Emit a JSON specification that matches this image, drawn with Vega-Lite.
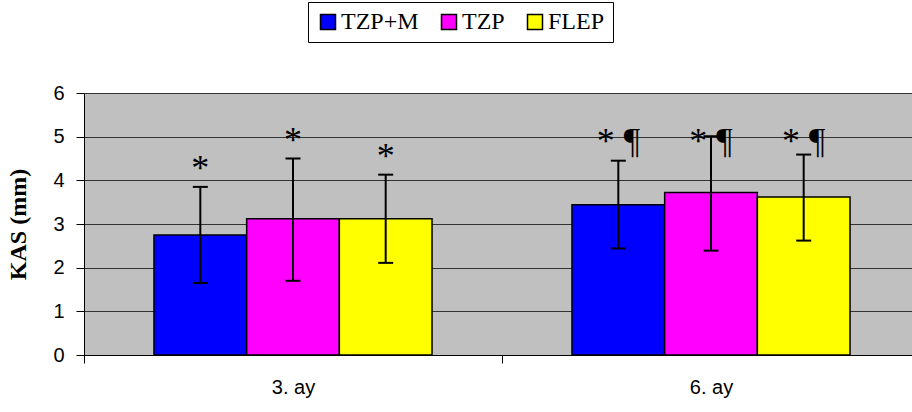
{
  "$schema": "https://vega.github.io/schema/vega-lite/v6.json",
  "autosize": {"type": "none"},
  "padding": {"left": 84, "top": 93, "right": 0, "bottom": 57},
  "width": 836,
  "height": 262,
  "background": "white",
  "config": {"view": {"fill": "#C0C0C0", "stroke": "#808080", "strokeWidth": 1}},
  "data": {"values": [
    {"period": "3. ay", "group": "TZP+M", "mean": 2.75, "lo": 1.65, "hi": 3.85, "sig": "*"},
    {"period": "3. ay", "group": "TZP", "mean": 3.12, "lo": 1.70, "hi": 4.50, "sig": "*"},
    {"period": "3. ay", "group": "FLEP", "mean": 3.12, "lo": 2.11, "hi": 4.13, "sig": "*"},
    {"period": "6. ay", "group": "TZP+M", "mean": 3.44, "lo": 2.44, "hi": 4.45, "sig": "* ¶"},
    {"period": "6. ay", "group": "TZP", "mean": 3.72, "lo": 2.39, "hi": 5.01, "sig": "* ¶"},
    {"period": "6. ay", "group": "FLEP", "mean": 3.62, "lo": 2.62, "hi": 4.59, "sig": "* ¶"}
  ]},
  "encoding": {
    "x": {
      "field": "period", "type": "nominal", "sort": ["3. ay", "6. ay"],
      "scale": {"paddingInner": 0, "paddingOuter": 0},
      "axis": {
        "title": null, "labelAngle": 0, "tickBand": "extent",
        "labelFont": "Liberation Sans", "labelFontSize": 20, "labelColor": "black",
        "labelPadding": 14, "tickSize": 8, "tickColor": "black", "domainColor": "black",
        "grid": false
      }
    },
    "xOffset": {
      "field": "group", "type": "nominal", "sort": ["TZP+M", "TZP", "FLEP"],
      "scale": {"paddingInner": 0, "paddingOuter": 0.755}
    }
  },
  "layer": [
    {
      "mark": {"type": "bar", "stroke": "black", "strokeWidth": 1.5},
      "encoding": {
        "y": {
          "field": "mean", "type": "quantitative",
          "scale": {"domain": [0, 6], "nice": false},
          "axis": {
            "values": [0, 1, 2, 3, 4, 5, 6],
            "title": "KAS (mm)", "titleFont": "Liberation Serif", "titleFontWeight": "bold",
            "titleFontSize": 24, "titleColor": "black", "titlePadding": 22,
            "labelFont": "Liberation Sans", "labelFontSize": 20, "labelColor": "black",
            "labelPadding": 12, "tickSize": 8, "tickColor": "black", "domainColor": "black",
            "grid": true, "gridColor": "#333333", "gridWidth": 1
          }
        },
        "color": {
          "field": "group", "type": "nominal", "sort": ["TZP+M", "TZP", "FLEP"],
          "scale": {"domain": ["TZP+M", "TZP", "FLEP"], "range": ["#0000FF", "#FF00FF", "#FFFF00"]},
          "legend": {
            "orient": "none", "legendX": 224, "legendY": -91, "direction": "horizontal",
            "title": null, "strokeColor": "black", "fillColor": "white", "padding": 8,
            "symbolType": "square", "symbolSize": 225, "symbolStrokeColor": "black",
            "symbolStrokeWidth": 1.5, "symbolOpacity": 1,
            "labelFont": "Liberation Serif", "labelFontSize": 24, "labelColor": "black",
            "labelOffset": 1, "columnPadding": 18
          }
        }
      }
    },
    {
      "mark": {"type": "rule", "color": "black", "strokeWidth": 2},
      "encoding": {
        "y": {"field": "lo", "type": "quantitative"},
        "y2": {"field": "hi"}
      }
    },
    {
      "mark": {"type": "tick", "color": "black", "thickness": 2, "size": 15, "opacity": 1},
      "encoding": {"y": {"field": "lo", "type": "quantitative"}}
    },
    {
      "mark": {"type": "tick", "color": "black", "thickness": 2, "size": 15, "opacity": 1},
      "encoding": {"y": {"field": "hi", "type": "quantitative"}}
    },
    {
      "transform": [{"filter": "datum.period == '3. ay'"}],
      "mark": {"type": "text", "font": "Liberation Serif", "fontSize": 36, "baseline": "alphabetic", "dy": -7, "color": "black"},
      "encoding": {
        "y": {"field": "hi", "type": "quantitative"},
        "text": {"field": "sig"}
      }
    },
    {
      "transform": [{"filter": "datum.period == '6. ay'"}],
      "mark": {"type": "text", "font": "Liberation Serif", "fontSize": 36, "baseline": "alphabetic", "color": "black"},
      "encoding": {
        "y": {"datum": 4.62, "type": "quantitative"},
        "text": {"field": "sig"}
      }
    }
  ]
}
